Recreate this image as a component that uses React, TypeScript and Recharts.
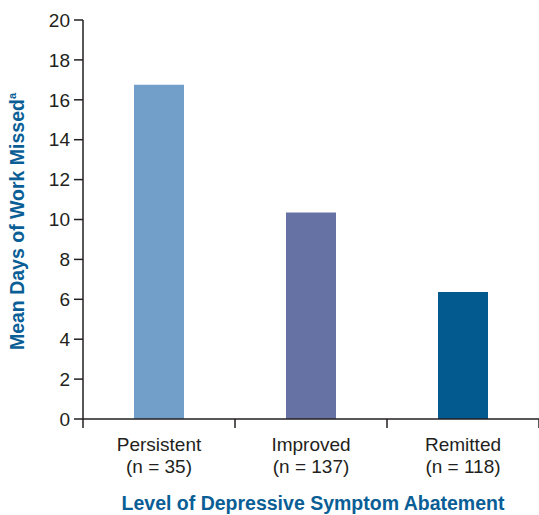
import React from 'react';
import { BarChart, Bar, XAxis, YAxis, Cell, Label } from 'recharts';

const GROUPS = ['Persistent', 'Improved', 'Remitted'];
const GROUP_N = ['(n = 35)', '(n = 137)', '(n = 118)'];
const DAYS_MISSED = [16.75, 10.35, 6.37];
const BAR_COLORS = ['#729fc9', '#6672a3', '#025a8f'];
const Y_TICKS = [0, 2, 4, 6, 8, 10, 12, 14, 16, 18, 20];

const data = GROUPS.map((g, i) => ({ group: g, n: GROUP_N[i], days: DAYS_MISSED[i] }));

const INK = '#231f20';
const BLUE = '#0a5e96';
const FONT = '"Liberation Sans", Arial, sans-serif';

function CategoryTick(props: any) {
  const { x, y, payload, index, visibleTicksCount } = props;
  const half = payload && payload.offset ? payload.offset : 76;
  const left = x - half;
  const right = x + half;
  return (
    <g>
      <line x1={left} y1={y} x2={left} y2={y + 9} stroke={INK} strokeWidth={1.5} />
      {index === visibleTicksCount - 1 && (
        <line x1={right} y1={y} x2={right} y2={y + 9} stroke={INK} strokeWidth={1.5} />
      )}
      <text x={x} y={y + 32} textAnchor="middle" fill={INK} fontSize={19} fontFamily={FONT}>
        {payload.value}
      </text>
      <text x={x} y={y + 54} textAnchor="middle" fill={INK} fontSize={19} fontFamily={FONT}>
        {GROUP_N[index]}
      </text>
    </g>
  );
}

function YTitle(props: any) {
  const vb = props.viewBox || { x: 0, y: 20, width: 83, height: 399 };
  const cx = vb.x + 24;
  const cy = vb.y + vb.height / 2 + 2;
  return (
    <text
      x={cx}
      y={cy}
      transform={`rotate(-90, ${cx}, ${cy})`}
      textAnchor="middle"
      fill={BLUE}
      fontSize={19.5}
      fontWeight="bold"
      fontFamily={FONT}
    >
      Mean Days of Work Missed
      <tspan fontSize={11} dy={-8}>a</tspan>
    </text>
  );
}

function XTitle(props: any) {
  const vb = props.viewBox || { x: 83, y: 419, width: 456, height: 96 };
  return (
    <text
      x={vb.x + vb.width / 2 + 2}
      y={vb.y + 91}
      textAnchor="middle"
      fill={BLUE}
      fontSize={19.5}
      fontWeight="bold"
      fontFamily={FONT}
    >
      Level of Depressive Symptom Abatement
    </text>
  );
}

export default function App() {
  return (
    <div style={{ position: 'absolute', left: 0, top: 0, width: 539, height: 515, background: '#fff' }}>
      <BarChart
        width={539}
        height={515}
        data={data}
        margin={{ top: 20, right: 0, left: 0, bottom: 0 }}
        barCategoryGap={0}
      >
        <XAxis
          dataKey="group"
          height={96}
          axisLine={{ stroke: INK, strokeWidth: 1.5 }}
          tickLine={false}
          tickSize={0}
          tickMargin={0}
          interval={0}
          tick={<CategoryTick />}
        >
          <Label content={<XTitle />} />
        </XAxis>
        <YAxis
          width={83}
          domain={[0, 20]}
          ticks={Y_TICKS}
          interval={0}
          axisLine={{ stroke: INK, strokeWidth: 1.5 }}
          tickLine={{ stroke: INK, strokeWidth: 1.5 }}
          tickSize={9}
          tickMargin={4}
          tick={{ fill: INK, fontSize: 19, fontFamily: FONT }}
        >
          <Label content={<YTitle />} />
        </YAxis>
        <Bar dataKey="days" barSize={50} isAnimationActive={false}>
          {data.map((d, i) => (
            <Cell key={d.group} fill={BAR_COLORS[i]} />
          ))}
        </Bar>
      </BarChart>
    </div>
  );
}
